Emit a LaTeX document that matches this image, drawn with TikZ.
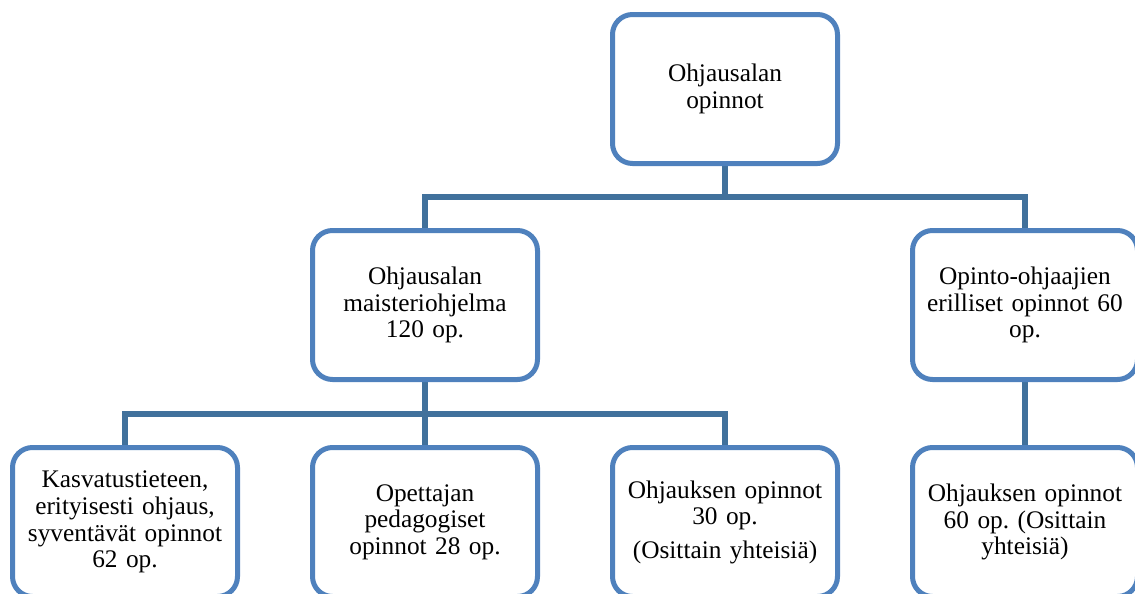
\documentclass[tikz,border=0pt]{standalone}
\usepackage{fontspec}
\setmainfont{Liberation Serif}
\usetikzlibrary{positioning, backgrounds}
\definecolor{boxline}{HTML}{4F81BD}
\definecolor{linkline}{HTML}{41719C}
\tikzset{
  box/.style  = {rectangle, rounded corners=15pt, draw=boxline, fill=white,
                 line width=3.75pt, align=center, text width=162pt,
                 font=\fontsize{19}{20}\selectfont\frenchspacing,
                 minimum width=168.75pt, minimum height=111.75pt, inner sep=2pt},
  link/.style = {line width=4pt, draw=linkline},
}
\begin{document}
\begin{tikzpicture}[x=0.75pt, y=-0.75pt]
  \useasboundingbox (0,0) rectangle (1135,593);
  \clip (0,0) rectangle (1135,593);
  \node[box] (top) at (725,89) {Ohjausalan\\opinnot};
  \node[box] (ma) at (425,305) {Ohjausalan\\maisteriohjelma\\120 op.};
  \node[box] (oo) at (1025,305) {Opinto-ohjaajien\\erilliset opinnot 60\\op.};
  \node[box] (kas) at (125,522) {Kasvatustieteen,\\erityisesti ohjaus,\\syventävät opinnot\\62 op.};
  \node[box] (ped) at (425,522) {Opettajan\\pedagogiset\\opinnot 28 op.};
  \node[box] (oh30) at (725,522) {Ohjauksen opinnot\\30 op.\\[5pt](Osittain yhteisiä)};
  \node[box] (oh60) at (1025,522) {Ohjauksen opinnot\\60 op. (Osittain\\yhteisiä)};
  \coordinate (j1) at (725,197);
  \coordinate (j2) at (425,414);
  \begin{scope}[on background layer]
    \draw[link] (top.south) -- (j1);
    \draw[link] (j1) -| (ma.north);
    \draw[link] (j1) -| (oo.north);
    \draw[link] (ma.south) -- (j2);
    \foreach \n in {kas, ped, oh30}{\draw[link] (j2) -| (\n.north);}
    \draw[link] (oo.south) -- (oh60.north);
  \end{scope}
\end{tikzpicture}
\end{document}
